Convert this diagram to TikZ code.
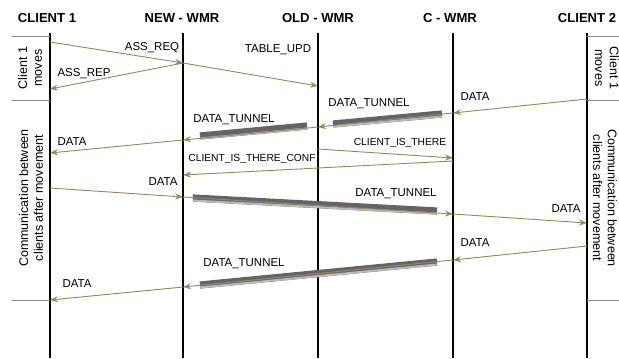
\documentclass[tikz,border=0pt]{standalone}
\usepackage{fontspec}
\setmainfont{Liberation Sans}
\usetikzlibrary{arrows.meta}
\definecolor{msgolive}{RGB}{150,140,90}
\definecolor{boxgray}{RGB}{140,140,140}
\definecolor{tunneldark}{RGB}{100,100,104}
\definecolor{tunnellight}{RGB}{185,185,195}
\begin{document}
\begin{tikzpicture}[x=0.75pt,y=0.75pt,yscale=-1,xscale=1,
  lifeline/.style={line width=2.2pt,black},
  msg/.style={draw=msgolive,line width=0.7pt,-{Stealth[length=6pt,width=4.5pt,inset=2pt]}},
  tunnel/.style={draw=tunneldark,line width=5.4pt,
    postaction={draw=tunnellight,line width=1.5pt,transform canvas={yshift=-1.9pt}}},
  sidebox/.style={draw=boxgray,line width=0.6pt},
  head/.style={font=\fontsize{9.8}{11}\selectfont\bfseries},
  lbl/.style={font=\fontsize{8.6}{10}\selectfont},
  lblsmall/.style={font=\fontsize{7.7}{9}\selectfont},
  side/.style={font=\fontsize{9.4}{11.2}\selectfont,align=center}]
\useasboundingbox (0,0) rectangle (619,358);

% Header nodes
\node[head] (hc1) at (47,18) {CLIENT 1};
\node[head] (hnw) at (182,18) {NEW - WMR};
\node[head] (how) at (318,18) {OLD - WMR};
\node[head] (hcw) at (450,18) {C - WMR};
\node[head] (hc2) at (587,18) {CLIENT 2};

%Lifelines
\foreach \x in {50,183,318,453,587}
  \draw[lifeline] (\x,33) -- (\x,358);

%Side boxes
\foreach \y in {36,100,300} {
  \draw[sidebox] (12,\y) -- (50,\y);
  \draw[sidebox] (587,\y) -- (619,\y);
}
\node[side,rotate=90] (lmov) at (30,68) {Client 1\\moves};
\node[side,rotate=90] (lcom) at (31,198) {Communication between\\clients after movement};
\node[side,rotate=-90] (rmov) at (607,68) {Client 1\\moves};
\node[side,rotate=-90] (rcom) at (605,198) {Communication between\\clients after movement};

% Message end points
\coordinate (c1a) at (50,42);
\coordinate (nwa) at (183,63);
\coordinate (c1b) at (50,89);
\coordinate (owa) at (318,86);
\coordinate (c2a) at (587,99);
\coordinate (cwa) at (453,113);
\coordinate (owb) at (318,127);
\coordinate (nwb) at (183,140);
\coordinate (c1c) at (50,153);
\coordinate (owc) at (318,149);
\coordinate (cwb) at (453,158);
\coordinate (cwc) at (453,161);
\coordinate (nwc) at (183,175);
\coordinate (c1d) at (50,188);
\coordinate (nwd) at (183,197);
\coordinate (cwd) at (453,214);
\coordinate (c2b) at (587,223);
\coordinate (c2c) at (587,246);
\coordinate (cwe) at (453,260);
\coordinate (nwe) at (183,287);
\coordinate (c1e) at (50,300);

% Tunnel bars
\draw[tunnel] (442,114) -- (333,124);
\draw[tunnel] (307,126) -- (200,136);
\draw[tunnel] (193,198) -- (437,211);
\draw[tunnel] (437,262) -- (200,285);

%Messages
\draw[msg] (c1a) -- (nwa);
\draw[msg] (nwa) -- (c1b);
\draw[msg] (nwa) -- (owa);
\draw[msg] (c2a) -- (cwa);
\draw[msg] (cwa) -- (owb);
\draw[msg] (owb) -- (nwb);
\draw[msg] (nwb) -- (c1c);
\draw[msg] (owc) -- (cwb);
\draw[msg] (cwc) -- (nwc);
\draw[msg] (c1d) -- (nwd);
\draw[msg] (nwd) -- (cwd);
\draw[msg] (cwd) -- (c2b);
\draw[msg] (c2c) -- (cwe);
\draw[msg] (cwe) -- (nwe);
\draw[msg] (nwe) -- (c1e);

% Text Node
\node[lbl] (lreq) at (152,48) {ASS\_REQ};
\node[lbl] (lrep) at (84,74) {ASS\_REP};
\node[lbl] (lupd) at (278,50) {TABLE\_UPD};
\node[lbl] (ld1) at (475,97) {DATA};
\node[lbl] (lt1) at (369,104) {DATA\_TUNNEL};
\node[lbl] (lt2) at (234,120) {DATA\_TUNNEL};
\node[lbl] (ld2) at (72,142) {DATA};
\node[lblsmall] (lcit) at (400,143) {CLIENT\_IS\_THERE};
\node[lblsmall] (lcic) at (252,159) {CLIENT\_IS\_THERE\_CONF};
\node[lbl] (ld3) at (163,182) {DATA};
\node[lbl] (lt3) at (396,194) {DATA\_TUNNEL};
\node[lbl] (ld4) at (566,209) {DATA};
\node[lbl] (ld5) at (475,243) {DATA};
\node[lbl] (lt4) at (244,264) {DATA\_TUNNEL};
\node[lbl] (ld6) at (77,284) {DATA};

\end{tikzpicture}
\end{document}
